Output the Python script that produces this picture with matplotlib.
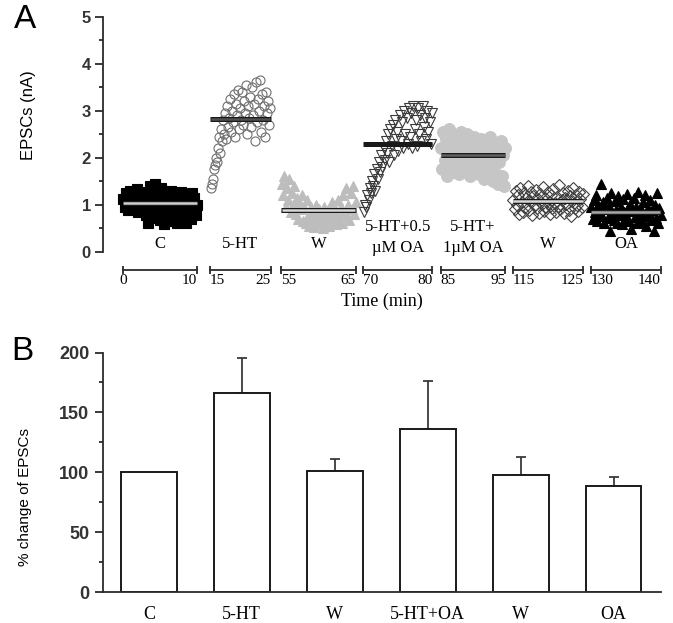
import matplotlib

matplotlib.use("Agg")
import matplotlib.pyplot as plt
from matplotlib.ticker import MultipleLocator

W_PX, H_PX = 673, 623
SERIF = "Liberation Serif"
SANS = "Liberation Sans"

# panel A: recording segments (start time in min, each 10 min long)
SEGMENT_STARTS = [0, 15, 55, 70, 85, 115, 130]
SEGMENT_LABELS = ["C", "5-HT", "W", "5-HT+0.5\n\u00b5M OA", "5-HT+\n1\u00b5M OA", "W", "OA"]
SEGMENT_MEANS = [1.03, 2.83, 0.88, 2.30, 2.05, 1.08, 0.85]

# sampling times within a segment (s)
SAMPLE_SEC = [6, 16, 26, 36, 46, 56, 66, 76, 86, 96,
              106, 116, 126, 136, 146, 156, 166, 176, 186, 196,
              206, 216, 226, 236, 246, 256, 266, 276, 286, 296,
              306, 316, 326, 336, 346, 356, 366, 376, 386, 396,
              406, 416, 426, 436, 446, 456, 466, 476, 486, 496,
              506, 516, 526, 536, 546, 556, 566, 576, 586, 596]

EPSC_C = [1.12, 0.95, 1.25, 1.05, 0.88, 1.30, 1.15, 0.98, 1.22, 0.90,
          1.08, 1.33, 0.85, 1.18, 1.02, 1.28, 0.92, 1.10, 0.78, 1.25,
          0.62, 1.40, 0.95, 1.15, 0.72, 1.45, 1.05, 0.80, 1.20, 0.68,
          1.35, 0.90, 1.10, 0.58, 1.25, 0.85, 1.00, 0.65, 1.30, 0.92,
          1.15, 0.75, 1.22, 0.60, 1.05, 0.88, 1.28, 0.70, 1.12, 0.95,
          0.62, 1.20, 0.82, 1.05, 0.70, 1.25, 0.90, 1.15, 0.78, 1.00]
EPSC_5HT = [1.35, 1.45, 1.55, 1.75, 1.85, 2.00, 1.90, 2.20, 2.45, 2.10,
            2.60, 2.35, 2.80, 2.50, 2.95, 2.40, 3.10, 2.65, 2.85, 3.25,
            2.55, 3.00, 2.75, 3.35, 2.45, 3.15, 2.90, 3.45, 2.60, 3.05,
            2.80, 3.40, 2.70, 3.20, 2.95, 3.55, 2.50, 3.10, 2.85, 3.30,
            2.65, 3.50, 2.90, 3.15, 2.35, 3.60, 2.75, 3.25, 3.00, 3.65,
            2.55, 3.35, 2.80, 3.10, 2.45, 3.40, 2.95, 3.20, 2.70, 3.05]
EPSC_W1 = [1.45, 1.20, 1.60, 0.95, 1.35, 1.10, 1.55, 0.85, 1.25, 1.00,
           1.40, 0.80, 1.15, 0.70, 1.05, 0.90, 1.20, 0.65, 0.95, 0.60,
           1.10, 0.75, 0.55, 0.95, 0.68, 0.85, 0.52, 1.00, 0.72, 0.58,
           0.90, 0.62, 0.80, 0.50, 0.95, 0.70, 0.60, 0.88, 0.55, 0.78,
           1.05, 0.65, 0.92, 0.58, 0.82, 1.10, 0.70, 0.95, 0.62, 1.20,
           0.85, 1.35, 0.75, 1.00, 0.68, 1.25, 0.90, 1.40, 0.80, 1.05]
EPSC_5HT_OA05 = [0.85, 1.00, 0.95, 1.20, 1.10, 1.35, 1.25, 1.50, 1.40, 1.65,
                 1.30, 1.75, 1.55, 1.90, 1.70, 2.05, 1.80, 2.20, 1.95, 2.35,
                 2.10, 2.50, 1.90, 2.60, 2.25, 2.70, 2.05, 2.80, 2.40, 2.55,
                 2.15, 2.90, 2.35, 2.75, 2.20, 3.00, 2.50, 2.85, 2.30, 3.05,
                 2.45, 2.95, 2.20, 3.10, 2.60, 2.80, 2.25, 3.05, 2.50, 2.90,
                 2.35, 3.10, 2.65, 2.85, 2.40, 3.00, 2.55, 2.75, 2.30, 2.95]
EPSC_5HT_OA1 = [2.20, 1.75, 2.55, 1.95, 2.40, 1.60, 2.30, 2.60, 1.85, 2.15,
                2.50, 1.70, 2.05, 2.45, 1.90, 2.35, 1.65, 2.25, 2.55, 1.80,
                2.10, 2.40, 1.75, 2.00, 2.50, 1.85, 2.20, 1.60, 2.35, 1.95,
                2.45, 1.70, 2.15, 1.90, 2.30, 1.65, 2.05, 2.40, 1.80, 2.20,
                1.55, 2.35, 1.95, 2.10, 1.70, 2.45, 1.85, 2.25, 1.50, 2.00,
                2.30, 1.65, 2.15, 1.45, 1.90, 2.35, 1.60, 2.05, 1.40, 2.20]
EPSC_W2 = [1.10, 0.90, 1.30, 1.00, 1.20, 0.80, 1.35, 1.05, 0.85, 1.25,
           0.95, 1.15, 1.40, 0.88, 1.08, 1.28, 0.78, 1.18, 1.00, 1.32,
           0.92, 1.12, 0.82, 1.22, 1.02, 1.38, 0.86, 1.15, 0.96, 1.26,
           1.06, 0.80, 1.20, 0.94, 1.34, 1.04, 0.84, 1.16, 0.98, 1.42,
           0.90, 1.10, 1.24, 0.82, 1.14, 1.02, 1.30, 0.88, 1.18, 0.76,
           1.08, 1.36, 0.92, 1.20, 1.00, 0.86, 1.26, 1.12, 0.96, 1.22]
EPSC_OA = [0.95, 0.70, 1.10, 0.85, 1.20, 0.65, 1.00, 0.80, 1.45, 0.75,
           1.05, 0.60, 0.90, 1.15, 0.72, 0.98, 0.45, 1.25, 0.82, 0.68,
           1.08, 0.88, 0.62, 1.18, 0.78, 0.95, 0.58, 1.12, 0.84, 0.70,
           1.22, 0.92, 0.66, 1.02, 0.48, 0.86, 1.15, 0.74, 0.96, 0.60,
           1.28, 0.80, 0.90, 0.64, 1.06, 0.76, 1.20, 0.55, 0.94, 0.82,
           1.10, 0.68, 0.88, 0.45, 1.00, 0.72, 1.25, 0.62, 0.92, 0.78]

SEGMENT_DATA = [EPSC_C, EPSC_5HT, EPSC_W1, EPSC_5HT_OA05, EPSC_5HT_OA1, EPSC_W2, EPSC_OA]

# panel B
BAR_LABELS = ["C", "5-HT", "W", "5-HT+OA", "W", "OA"]
BAR_MEANS = [100, 166, 101, 136, 98, 89]
BAR_SEM = [0, 29, 10, 40, 15, 7]

# marker styles per segment: marker, size, face, edge
STYLES = [
    ("s", 6.5, "black", "black"),
    ("o", 6.5, "none", "#707070"),
    ("^", 7.5, "#bdbdbd", "#bdbdbd"),
    ("v", 7.0, "none", "#3a3a3a"),
    ("o", 8.5, "#c6c6c6", "#c6c6c6"),
    ("D", 6.0, "none", "#404040"),
    ("^", 7.5, "black", "black"),
]
# mean line inner colour (outer outline is dark)
MEAN_COLORS = ["#d0d0d0", "#505050", "#d8d8d8", "#1a1a1a", "#606060", "#d8d8d8", "#a8a8a8"]

# pixel extents of the broken time axis
SEG_PX = [(122.7, 197.3), (210, 270.7), (281, 356), (363.3, 432.3),
          (440.7, 505.3), (512.7, 583.3), (590.7, 661)]


def add_px_axes(fig, x0, x1, y_top, y_bot):
    return fig.add_axes([x0 / W_PX, 1 - y_bot / H_PX, (x1 - x0) / W_PX, (y_bot - y_top) / H_PX])


fig = plt.figure(figsize=(W_PX / 100, H_PX / 100), dpi=100)
AX_COLOR = "#2b2b2b"

# ---------------- panel A ----------------
top, bot = 16.7, 251.7
ax = add_px_axes(fig, 103.3, 661, top, bot)
ax.set_ylim(0, 5)
ax.set_xlim(0, 1)
for s in ("top", "right", "bottom"):
    ax.spines[s].set_visible(False)
ax.spines["left"].set_linewidth(1.3)
ax.spines["left"].set_color(AX_COLOR)
ax.set_xticks([])
ax.yaxis.set_major_locator(MultipleLocator(1))
ax.yaxis.set_minor_locator(MultipleLocator(0.5))
ax.tick_params(axis="y", which="major", length=6, width=1.3, color=AX_COLOR, pad=3)
ax.tick_params(axis="y", which="minor", length=3, width=1.3, color=AX_COLOR)
for lab in ax.get_yticklabels():
    lab.set_fontfamily(SANS)
    lab.set_fontsize(12)
    lab.set_fontweight("bold")
    lab.set_color("#333333")
ax.patch.set_alpha(0)

sample_min = [s / 60 for s in SAMPLE_SEC]
for i, start in enumerate(SEGMENT_STARTS):
    x0, x1 = SEG_PX[i]
    sax = add_px_axes(fig, x0, x1, top, bot)
    sax.set_ylim(0, 5)
    sax.set_xlim(start, start + 10)
    sax.patch.set_alpha(0)
    for s in ("top", "right", "left"):
        sax.spines[s].set_visible(False)
    sax.spines["bottom"].set_position(("outward", 13.2))
    sax.spines["bottom"].set_linewidth(1.3)
    sax.spines["bottom"].set_color(AX_COLOR)
    sax.set_yticks([])
    sax.set_xticks([start, start + 10])
    sax.set_xticklabels([str(start), str(start + 10)], fontfamily=SERIF, fontsize=11)
    sax.tick_params(axis="x", direction="inout", length=6, width=1.3, color=AX_COLOR, pad=0)
    labs = sax.get_xticklabels()
    labs[0].set_ha("center" if start == 0 else "left")
    labs[1].set_ha("right")

    marker, ms, fc, ec = STYLES[i]
    times = [start + t for t in sample_min]
    sax.plot(times, SEGMENT_DATA[i], linestyle="none", marker=marker, ms=ms,
             mfc=fc, mec=ec, mew=0.8, clip_on=False)
    m = SEGMENT_MEANS[i]
    sax.plot([start, start + 10], [m, m], color="#1a1a1a", lw=3.6,
             solid_capstyle="butt", clip_on=False)
    sax.plot([start + 0.1, start + 9.9], [m, m], color=MEAN_COLORS[i], lw=1.8,
             solid_capstyle="butt", clip_on=False)

    label = SEGMENT_LABELS[i]
    if "\n" in label:
        sax.text(start + 5, 0.30, label, ha="center", va="center", fontfamily=SERIF,
                 fontsize=12, linespacing=1.45)
    else:
        sax.text(start + 5, 0.16, label, ha="center", va="center", fontfamily=SERIF,
                 fontsize=12)

fig.text(382 / W_PX, 1 - 301.7 / H_PX, "Time (min)", ha="center", va="center",
         fontfamily=SERIF, fontsize=13)
fig.text(28 / W_PX, 1 - 115 / H_PX, "EPSCs (nA)", ha="center", va="center",
         rotation=90, fontfamily=SANS, fontsize=12)
fig.text(25 / W_PX, 1 - 20 / H_PX, "A", ha="center", va="center",
         fontfamily=SANS, fontsize=24)

# ---------------- panel B ----------------
bx = add_px_axes(fig, 103.3, 661, 352.5, 592.3)
positions = list(range(len(BAR_LABELS)))
bx.bar(positions, BAR_MEANS, width=0.6, color="white", edgecolor="#1a1a1a",
       linewidth=1.4, zorder=2)
err_pos = [p for p, e in zip(positions, BAR_SEM) if e > 0]
err_val = [e for e in BAR_SEM if e > 0]
err_mean = [b for b, e in zip(BAR_MEANS, BAR_SEM) if e > 0]
bx.errorbar(err_pos, err_mean, yerr=[[0] * len(err_val), err_val], fmt="none",
            ecolor="#3a3a3a", elinewidth=1.3, capsize=3.5, capthick=1.3, zorder=1)
bx.set_xlim(-0.49, 5.51)
bx.set_ylim(0, 200)
for s in ("top", "right"):
    bx.spines[s].set_visible(False)
for s in ("left", "bottom"):
    bx.spines[s].set_linewidth(1.3)
    bx.spines[s].set_color(AX_COLOR)
bx.yaxis.set_major_locator(MultipleLocator(50))
bx.yaxis.set_minor_locator(MultipleLocator(25))
bx.tick_params(axis="y", which="major", length=6, width=1.3, color=AX_COLOR, pad=4)
bx.tick_params(axis="y", which="minor", length=3, width=1.3, color=AX_COLOR)
bx.set_xticks(positions)
bx.set_xticklabels(BAR_LABELS, fontfamily=SERIF, fontsize=13)
bx.tick_params(axis="x", length=0, pad=10)
for lab in bx.get_yticklabels():
    lab.set_fontfamily(SANS)
    lab.set_fontsize(13)
    lab.set_fontweight("bold")
    lab.set_color("#333333")

fig.text(25 / W_PX, 1 - 497 / H_PX, "% change of EPSCs", ha="center", va="center",
         rotation=90, fontfamily=SANS, fontsize=11)
fig.text(22 / W_PX, 1 - 352 / H_PX, "B", ha="center", va="center",
         fontfamily=SANS, fontsize=24)

fig.savefig("out.png", dpi=100)
